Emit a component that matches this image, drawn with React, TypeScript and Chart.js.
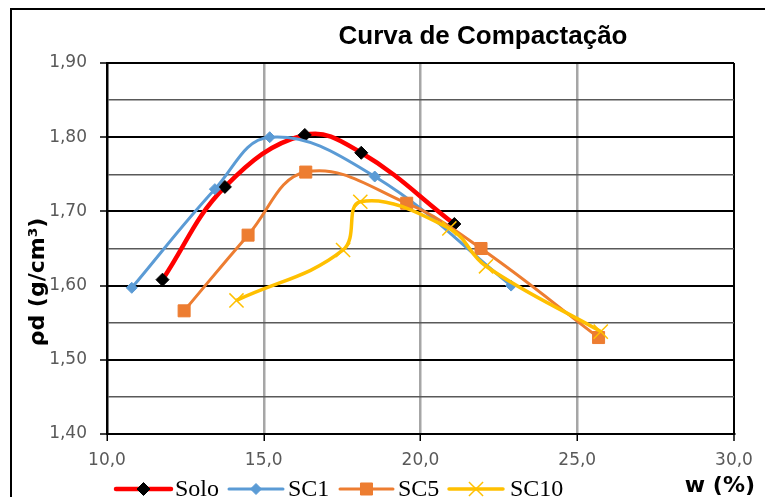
import React, { useEffect, useRef } from 'react';
import { Chart, registerables } from 'chart.js';

Chart.register(...registerables);

// Compaction curves: moisture content w (%) vs dry density ρd (g/cm³)
const soloW = [11.77, 13.76, 16.31, 18.11, 21.08];
const soloRho = [1.608, 1.733, 1.803, 1.779, 1.683];

const sc1W = [10.79, 13.44, 15.19, 18.54, 22.89];
const sc1Rho = [1.597, 1.730, 1.800, 1.747, 1.600];

const sc5W = [12.46, 14.5, 16.34, 19.56, 21.93, 25.68];
const sc5Rho = [1.566, 1.668, 1.753, 1.711, 1.650, 1.530];

const sc10W = [14.13, 17.53, 18.08, 20.92, 22.09, 25.75];
const sc10Rho = [1.580, 1.648, 1.713, 1.677, 1.626, 1.538];

const seriesNames = ['Solo', 'SC1', 'SC5', 'SC10'];

const xTicks = [10, 15, 20, 25, 30];
const yMin = 1.4;
const yMax = 1.9;

const TITLE = 'Curva de Compactação';
const Y_TITLE = 'ρd (g/cm³)';
const X_TITLE = 'w (%)';

const toPoints = (xs: number[], ys: number[]) => xs.map((x, i) => ({ x, y: ys[i] }));

const comma = (v: number, digits: number) => v.toFixed(digits).replace('.', ',');

type MarkerSpec = {
  style: 'rectRot' | 'rect' | 'crossRot';
  radius: number;
  fill: string;
  stroke: string;
  width: number;
};

const lineColors = ['#FF0000', '#5B9BD5', '#ED7D31', '#FFC000'];
const lineWidths = [4.5, 3, 3, 3.5];
const markers: MarkerSpec[] = [
  { style: 'rectRot', radius: 6.5, fill: '#000000', stroke: '#000000', width: 1 },
  { style: 'rectRot', radius: 5.5, fill: '#5B9BD5', stroke: '#5B9BD5', width: 1 },
  { style: 'rect', radius: 8.5, fill: '#ED7D31', stroke: '#ED7D31', width: 1 },
  { style: 'crossRot', radius: 10, fill: '#FFC000', stroke: '#FFC000', width: 1.5 },
];

// Legend slot geometry: line start, line end, label start
const legendSlots = [
  [116, 171, 175],
  [229, 283, 288],
  [340, 393, 398],
  [449, 503, 510],
];

function drawMarker(ctx: CanvasRenderingContext2D, m: MarkerSpec, x: number, y: number) {
  ctx.save();
  ctx.fillStyle = m.fill;
  ctx.strokeStyle = m.stroke;
  ctx.lineWidth = m.width;
  ctx.beginPath();
  if (m.style === 'rectRot') {
    ctx.moveTo(x, y - m.radius);
    ctx.lineTo(x + m.radius, y);
    ctx.lineTo(x, y + m.radius);
    ctx.lineTo(x - m.radius, y);
    ctx.closePath();
    ctx.fill();
    ctx.stroke();
  } else if (m.style === 'rect') {
    const h = m.radius * Math.SQRT1_2;
    ctx.rect(x - h, y - h, 2 * h, 2 * h);
    ctx.fill();
    ctx.stroke();
  } else {
    const o = m.radius * Math.SQRT1_2;
    ctx.moveTo(x - o, y - o);
    ctx.lineTo(x + o, y + o);
    ctx.moveTo(x - o, y + o);
    ctx.lineTo(x + o, y - o);
    ctx.stroke();
  }
  ctx.restore();
}

const overlayPlugin = {
  id: 'compactionOverlay',
  afterDraw(chart: Chart) {
    const ctx = chart.ctx;
    ctx.save();
    ctx.fillStyle = '#000';

    // Title
    ctx.font = 'bold 26px "Liberation Sans", Arial, sans-serif';
    ctx.textAlign = 'center';
    ctx.textBaseline = 'alphabetic';
    ctx.fillText(TITLE, 483, 44);

    // Y axis title
    ctx.save();
    ctx.translate(44, 282);
    ctx.rotate(-Math.PI / 2);
    ctx.font = 'bold 22px "DejaVu Sans", sans-serif';
    ctx.textAlign = 'center';
    ctx.fillText(Y_TITLE, 0, 0);
    ctx.restore();

    // X axis title
    ctx.font = 'bold 22px "DejaVu Sans", sans-serif';
    ctx.textAlign = 'right';
    ctx.fillText(X_TITLE, 755, 492);

    // Legend
    const ly = 489;
    ctx.font = '24px "Liberation Serif", "Times New Roman", serif';
    ctx.textAlign = 'left';
    seriesNames.forEach((name, i) => {
      const [x1, x2, tx] = legendSlots[i];
      ctx.save();
      ctx.strokeStyle = lineColors[i];
      ctx.lineWidth = lineWidths[i];
      ctx.lineCap = 'round';
      ctx.beginPath();
      ctx.moveTo(x1, ly);
      ctx.lineTo(x2, ly);
      ctx.stroke();
      ctx.restore();
      drawMarker(ctx, markers[i], (x1 + x2) / 2, ly);
      ctx.fillStyle = '#000';
      ctx.fillText(name, tx, 496);
    });

    ctx.restore();
  },
};

const seriesX = [soloW, sc1W, sc5W, sc10W];
const seriesY = [soloRho, sc1Rho, sc5Rho, sc10Rho];

export default function App() {
  const canvasRef = useRef<HTMLCanvasElement | null>(null);

  useEffect(() => {
    const canvas = canvasRef.current;
    if (!canvas) return;

    const datasets = seriesNames.map((name, i) => {
      const m = markers[i];
      return {
        label: name,
        data: toPoints(seriesX[i], seriesY[i]),
        borderColor: lineColors[i],
        borderWidth: lineWidths[i],
        backgroundColor: lineColors[i],
        pointStyle: m.style,
        pointRadius: m.radius,
        pointBackgroundColor: m.fill,
        pointBorderColor: m.stroke,
        pointBorderWidth: m.width,
        tension: 0.4,
        fill: false,
        order: seriesNames.length - i,
      };
    });

    const isMajorY = (v: number) => Math.round(v * 100) % 10 === 0;

    const chart = new Chart(canvas, {
      type: 'line',
      data: { datasets },
      plugins: [overlayPlugin],
      options: {
        animation: false,
        responsive: false,
        events: [],
        layout: { padding: { left: 0, top: 63, right: 31, bottom: 0 } },
        plugins: {
          legend: { display: false },
          title: { display: false },
          tooltip: { enabled: false },
        },
        scales: {
          x: {
            type: 'linear',
            min: xTicks[0],
            max: xTicks[xTicks.length - 1],
            afterFit: (scale: any) => {
              scale.height = 63;
            },
            afterBuildTicks: (scale: any) => {
              scale.ticks = xTicks.map((v) => ({ value: v }));
            },
            ticks: {
              autoSkip: false,
              maxRotation: 0,
              padding: 9,
              color: '#595959',
              font: { family: '"DejaVu Sans", sans-serif', size: 17 },
              callback: (v: any) => comma(Number(v), 1),
            },
            grid: {
              color: (c: any) =>
                c.tick && (c.tick.value === 10 || c.tick.value === 30) ? '#000000' : '#A6A6A6',
              lineWidth: (c: any) => (c.tick && c.tick.value === 30 ? 2 : 2.5),
              tickColor: '#000000',
              tickLength: 7,
              tickWidth: 1.5,
            },
            border: { display: true, color: '#000000', width: 2 },
          },
          y: {
            type: 'linear',
            min: yMin,
            max: yMax,
            afterFit: (scale: any) => {
              scale.width = 107;
            },
            ticks: {
              stepSize: 0.05,
              autoSkip: false,
              padding: 13,
              color: '#595959',
              font: { family: '"DejaVu Sans", sans-serif', size: 17 },
              callback: (v: any) => (isMajorY(Number(v)) ? comma(Number(v), 2) : ''),
            },
            grid: {
              color: (c: any) => (c.tick && isMajorY(c.tick.value) ? '#000000' : '#595959'),
              lineWidth: (c: any) => (c.tick && isMajorY(c.tick.value) ? 2 : 1.5),
              tickColor: (c: any) =>
                c.tick && isMajorY(c.tick.value) ? '#000000' : 'rgba(0,0,0,0)',
              tickLength: 7,
              tickWidth: 1.5,
            },
            border: { display: true, color: '#000000', width: 2 },
          },
        },
      } as any,
    });

    return () => {
      chart.destroy();
    };
  }, []);

  return (
    <div
      style={{
        position: 'fixed',
        left: 0,
        top: 0,
        width: 765,
        height: 497,
        overflow: 'hidden',
        background: '#ffffff',
      }}
    >
      <div
        style={{
          position: 'absolute',
          left: 10,
          top: 8,
          width: 820,
          height: 560,
          border: '2px solid #000000',
        }}
      />
      <canvas
        ref={canvasRef}
        width={765}
        height={497}
        style={{ position: 'absolute', left: 0, top: 0, display: 'block' }}
      />
    </div>
  );
}
